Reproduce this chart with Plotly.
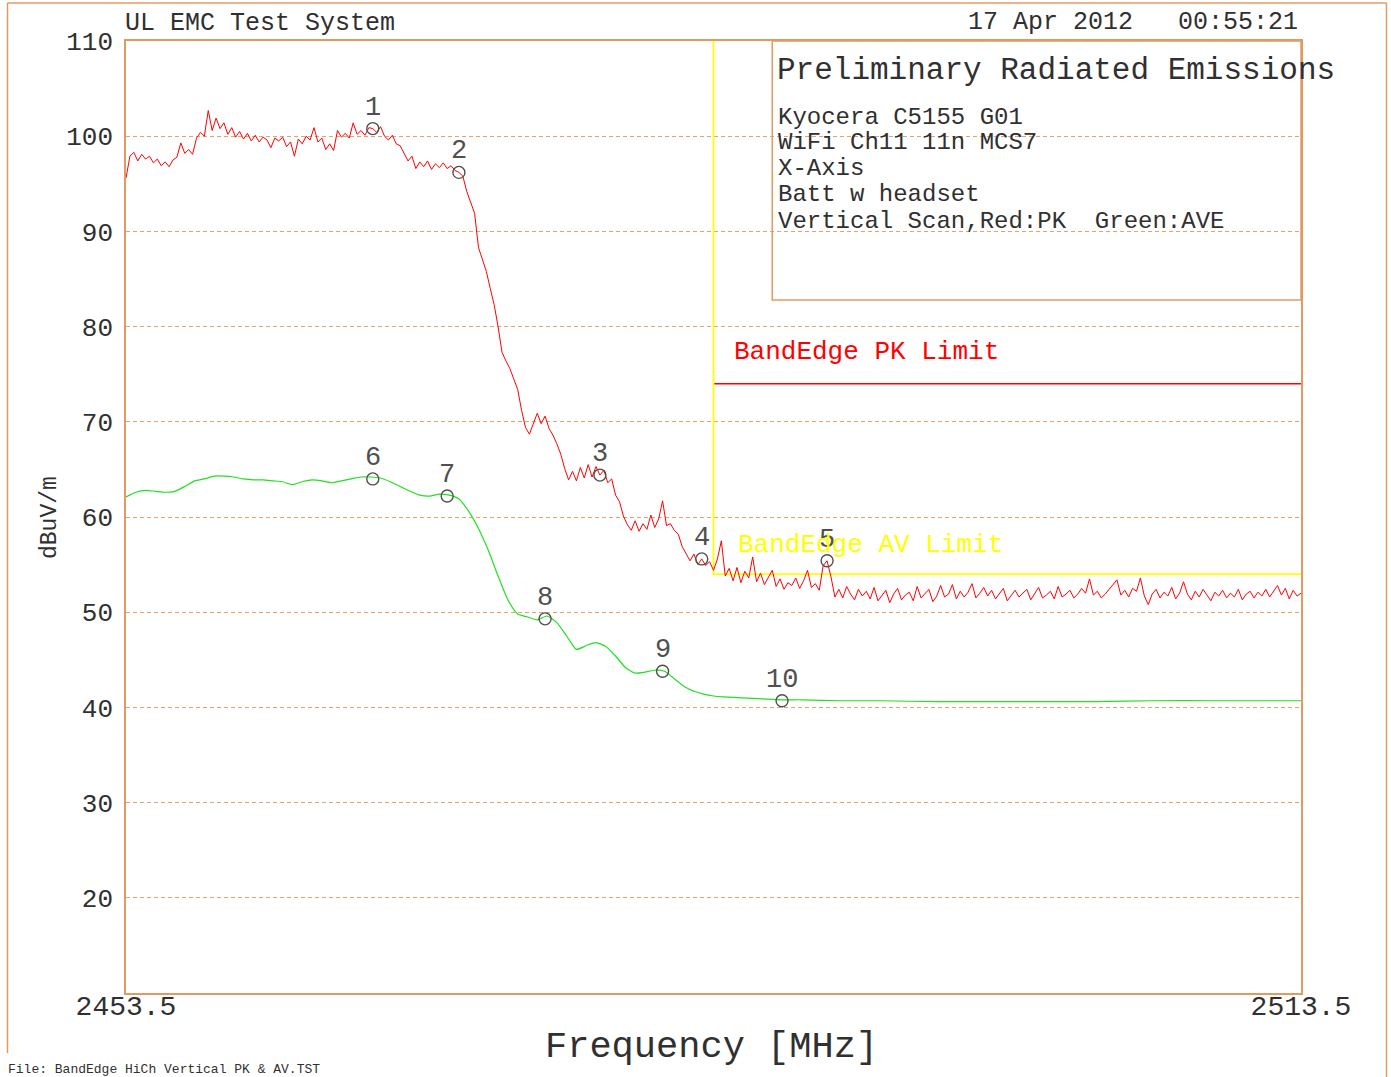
import numpy as np
import plotly.graph_objects as go

# ---- Peak (red) sweep: 0.2 MHz bins from 2453.5 to 2513.5 MHz ----
pk_start_mhz = 2453.5
pk_step_mhz = 0.2
peak_dbuv = [
    95.6, 97.9, 98.3, 97.4, 98.1, 97.6, 97.9, 97.2, 97.6, 96.9,
    97.3, 96.8, 97.5, 97.8, 99.3, 98.2, 98.6, 98.1, 99.8, 100.4,
    100.0, 102.7, 100.6, 101.9, 100.8, 101.4, 100.2, 100.9, 99.9, 100.5,
    99.7, 100.3, 99.5, 100.1, 99.4, 99.9, 99.6, 98.8, 99.8, 99.5,
    99.9, 98.9, 99.4, 97.9, 99.7, 99.2, 100.0, 99.6, 100.9, 99.4,
    99.8, 98.6, 99.2, 98.5, 100.6, 99.9, 100.3, 99.8, 101.4, 100.2,
    100.6, 100.1, 100.9, 100.8, 100.4, 101.0, 100.0, 99.6, 100.1, 99.2,
    99.0, 98.2, 97.4, 97.9, 96.6, 97.3, 96.8, 97.4, 96.5, 97.1,
    96.7, 97.2, 96.6, 96.9, 96.4, 96.2, 95.8, 94.2, 93.1, 91.9,
    88.3, 87.0, 85.8, 84.0, 82.3, 80.0, 77.3, 76.4, 75.6, 74.5,
    73.4, 71.2, 69.4, 68.7, 69.8, 70.9, 69.8, 70.6, 69.3, 68.6,
    67.7, 66.6, 65.1, 63.9, 64.8, 63.8, 65.2, 64.1, 65.5, 64.2,
    65.3, 64.4, 64.9, 63.6, 64.0, 62.3, 61.6, 60.1, 59.2, 58.6,
    59.6, 58.5, 59.3, 58.7, 60.2, 58.9, 59.8, 61.7, 59.1, 59.3,
    58.6, 58.2, 56.9, 56.2, 55.4, 56.1, 55.0, 55.6, 54.9, 55.3,
    54.4, 55.6, 57.5, 53.8, 54.6, 53.3, 54.7, 53.1, 54.3, 53.6,
    55.8, 53.2, 54.1, 52.9, 53.6, 54.4, 52.7, 53.5, 52.4, 53.1,
    52.8, 53.6, 52.5, 53.3, 54.4, 52.6, 53.0, 52.3, 54.9, 55.4,
    53.7, 51.6, 52.4, 51.5, 52.7, 51.9, 51.3, 52.4, 51.7, 52.2,
    51.4, 52.6, 51.2, 51.8, 52.3, 51.0, 51.9, 52.5, 51.3, 51.8,
    52.1, 51.2, 52.7, 51.5, 51.9, 52.4, 51.1, 51.7, 52.8, 51.6,
    51.9, 52.9, 51.4, 52.2, 51.6, 52.1, 53.0, 51.5, 52.0, 52.6,
    51.7, 52.3, 51.4, 51.9, 52.5, 51.2, 51.8, 52.3, 51.6, 52.0,
    52.4, 51.3, 51.9, 52.6, 51.5, 51.8, 52.2, 51.4, 52.7, 51.6,
    51.9, 52.3, 51.5, 51.9, 52.5, 52.0, 53.5, 51.8, 52.2, 51.5,
    51.9, 52.4, 53.0, 53.4, 51.8, 52.3, 51.6, 52.5, 52.2, 53.6,
    51.7, 50.8, 51.9, 52.4, 51.5, 52.1, 51.7, 52.6, 51.4, 52.0,
    53.2, 51.9, 51.3, 52.2, 51.6, 52.4, 51.8, 51.2, 52.1, 51.7,
    52.3, 51.5, 52.0, 51.6, 52.4, 51.3, 51.9, 52.2, 51.5, 52.1,
    51.7, 52.4, 51.6, 52.2, 52.8, 51.8, 52.5, 51.4, 52.3, 51.7,
    52.0,
]
peak_mhz = np.round(pk_start_mhz + pk_step_mhz * np.arange(len(peak_dbuv)), 1)

# ---- Average (green) sweep ----
avg_mhz = [
    2453.5, 2454.0, 2454.5, 2455.0, 2455.5, 2456.0, 2456.5, 2457.0, 2457.5, 2458.0,
    2458.5, 2459.0, 2459.5, 2460.0, 2460.5, 2461.0, 2461.5, 2462.0, 2462.5, 2463.0,
    2463.5, 2464.0, 2464.5, 2465.0, 2465.5, 2466.0, 2466.5, 2467.0, 2467.5, 2468.0,
    2468.5, 2469.0, 2469.5, 2470.0, 2470.5, 2471.0, 2471.5, 2472.0, 2472.5, 2473.0,
    2473.5, 2474.0, 2474.5, 2475.0, 2475.5, 2476.0, 2476.5, 2477.0, 2477.5, 2478.0,
    2478.5, 2479.0, 2479.5, 2480.0, 2480.5, 2481.0, 2481.5, 2482.0, 2482.5, 2483.0,
    2483.5, 2484.0, 2485.0, 2486.0, 2487.0, 2488.0, 2490.0, 2492.0, 2495.0, 2498.0,
    2500.0, 2503.0, 2506.0, 2509.0, 2513.5,
]
avg_dbuv = [
    62.1, 62.6, 62.8, 62.7, 62.6, 62.7, 63.2, 63.8, 64.0, 64.3,
    64.3, 64.2, 64.0, 63.9, 63.9, 63.8, 63.7, 63.4, 63.7, 63.9,
    63.8, 63.6, 63.8, 64.0, 64.2, 64.2, 64.1, 63.7, 63.2, 62.7,
    62.3, 62.2, 62.4, 62.3, 61.9, 60.6, 58.8, 56.5, 53.8, 51.3,
    49.8, 49.5, 49.2, 49.6, 48.9, 47.5, 46.1, 46.5, 46.8, 46.4,
    45.4, 44.2, 43.6, 43.7, 43.9, 43.8, 43.0, 42.2, 41.7, 41.4,
    41.2, 41.1, 41.0, 40.9, 40.8, 40.8, 40.7, 40.7, 40.6, 40.6,
    40.6, 40.6, 40.7, 40.7, 40.7,
]

# ---- Band-edge limits ----
band_edge_mhz = 2483.5
stop_mhz = 2513.5
pk_limit_dbuv = 74
av_limit_dbuv = 54
y_top_dbuv = 110

# ---- Marker table ----
marker_ids = ["1", "2", "3", "4", "5", "6", "7", "8", "9", "10"]
marker_mhz = [2466.1, 2470.5, 2477.7, 2482.9, 2489.3,
              2466.1, 2469.9, 2474.9, 2480.9, 2487.0]
marker_dbuv = [100.8, 96.2, 64.4, 55.6, 55.4,
               64.0, 62.2, 49.3, 43.8, 40.7]

y_ticks = [20, 30, 40, 50, 60, 70, 80, 90, 100, 110]
x_ticks = [2453.5, 2513.5]
x_tick_text = ["2453.5", "2513.5"]

FONT = "Liberation Mono"
FRAME = "#E39A62"
GRID = "#E9A06C"
INK = "#303030"
MARK = "#505050"
YELLOW = "#FFFF00"

fig = go.Figure()

fig.add_trace(go.Scatter(
    x=avg_mhz, y=avg_dbuv, mode="lines",
    line=dict(color="#22E022", width=1.2, shape="spline", smoothing=0.6),
    hoverinfo="skip", showlegend=False))

fig.add_trace(go.Scatter(
    x=[band_edge_mhz, stop_mhz], y=[pk_limit_dbuv, pk_limit_dbuv], mode="lines",
    line=dict(color="#FF0000", width=1.6), hoverinfo="skip", showlegend=False))

fig.add_trace(go.Scatter(
    x=[band_edge_mhz, band_edge_mhz, stop_mhz],
    y=[y_top_dbuv, av_limit_dbuv, av_limit_dbuv], mode="lines",
    line=dict(color=YELLOW, width=1.8), hoverinfo="skip", showlegend=False))

fig.add_trace(go.Scatter(
    x=peak_mhz, y=peak_dbuv, mode="lines",
    line=dict(color="#FF0000", width=1), hoverinfo="skip", showlegend=False))

fig.add_trace(go.Scatter(
    x=marker_mhz, y=marker_dbuv, mode="markers",
    marker=dict(symbol="circle-open", size=12, color=MARK, line=dict(width=1.4, color=MARK)),
    hoverinfo="skip", showlegend=False))

annotations = []
for mid, mx, my in zip(marker_ids, marker_mhz, marker_dbuv):
    annotations.append(dict(x=mx, y=my, xref="x", yref="y", text=mid, showarrow=False,
                            yshift=21, font=dict(family=FONT, size=27, color=MARK)))


def px_x(px):
    return (px - 126) / 1175.0


def px_y(py):
    return (993 - py) / 952.0


def label(text, x, y, size, color=INK, xanchor="left", angle=0):
    annotations.append(dict(x=px_x(x), y=px_y(y), xref="paper", yref="paper", text=text,
                            showarrow=False, xanchor=xanchor, yanchor="middle",
                            textangle=angle, font=dict(family=FONT, size=size, color=color)))


label("UL EMC Test System", 123, 23, 25)
label("17 Apr 2012\u00a0\u00a0\u00a000:55:21", 1300, 22, 25, xanchor="right")
label("Preliminary Radiated Emissions", 775, 70, 31)
legend_lines = ["Kyocera C5155 G01", "WiFi Ch11 11n MCS7", "X-Axis",
                "Batt w headset", "Vertical Scan,Red:PK\u00a0\u00a0Green:AVE"]
for k, line in enumerate(legend_lines):
    label(line, 776, 117 + 26 * k, 24)
label("BandEdge PK Limit", 732, 352, 26, color="#FF0000")
label("BandEdge AV Limit", 736, 545, 26, color=YELLOW)
label("Frequency [MHz]", 711, 1047, 37, xanchor="center")
label("dBuV/m", 50, 518, 23, xanchor="center", angle=-90)
label("File: BandEdge HiCh Vertical PK & AV.TST", 6, 1069, 13)

shapes = [
    # legend box
    dict(type="rect", xref="x", yref="y", x0=2486.5, x1=stop_mhz, y0=82.8, y1=y_top_dbuv,
         line=dict(color=FRAME, width=1.5)),
    # outer page frame
    dict(type="line", xref="paper", yref="paper", x0=px_x(7.5), x1=px_x(1386.5),
         y0=px_y(3), y1=px_y(3), line=dict(color=FRAME, width=1.5)),
    dict(type="line", xref="paper", yref="paper", x0=px_x(7.5), x1=px_x(7.5),
         y0=px_y(3), y1=px_y(1053), line=dict(color=FRAME, width=1.5)),
    dict(type="line", xref="paper", yref="paper", x0=px_x(1386.5), x1=px_x(1386.5),
         y0=px_y(3), y1=px_y(1080), line=dict(color=FRAME, width=1.5)),
]

fig.update_layout(
    width=1391, height=1077, autosize=False,
    margin=dict(l=126, r=90, t=41, b=84),
    paper_bgcolor="white", plot_bgcolor="white",
    showlegend=False,
    annotations=annotations, shapes=shapes,
    xaxis=dict(range=[pk_start_mhz, stop_mhz], tickvals=x_ticks, ticktext=x_tick_text,
               showgrid=False, zeroline=False, showline=True, mirror=True,
               linecolor=FRAME, linewidth=1.5, ticks="", ticklabelstandoff=-13,
               tickfont=dict(family=FONT, size=28, color=INK)),
    yaxis=dict(range=[10, 110], tickvals=y_ticks, showgrid=True, gridcolor=GRID,
               griddash="4px,3px", gridwidth=1, zeroline=False, showline=True,
               mirror=True, linecolor=FRAME, linewidth=1.5, ticks="",
               ticklabelstandoff=6,
               tickfont=dict(family=FONT, size=26, color=INK)),
)

fig.write_html("out.html")
